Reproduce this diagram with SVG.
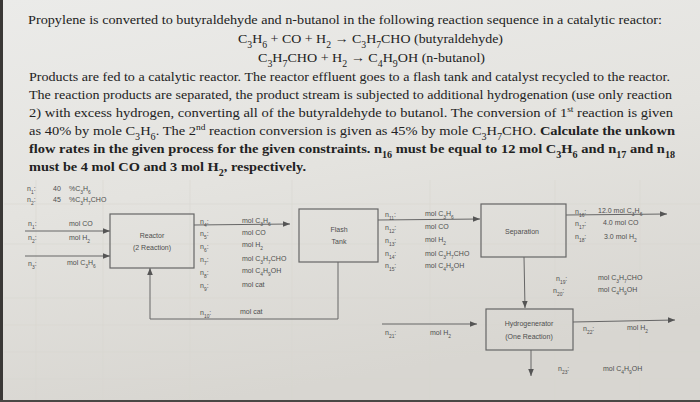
<svg xmlns="http://www.w3.org/2000/svg" width="700" height="402" viewBox="0 0 700 402">
<defs>
<linearGradient id="paper" x1="0" y1="0" x2="0.3" y2="1">
<stop offset="0" stop-color="#ebebe9"/>
<stop offset="0.5" stop-color="#e4e3df"/>
<stop offset="1" stop-color="#d8d6d1"/>
</linearGradient>
<marker id="ah" viewBox="0 0 10 10" refX="10" refY="5" markerWidth="7" markerHeight="7" markerUnits="userSpaceOnUse" orient="auto">
<path d="M0,1 L10,5 L0,9 Z" fill="#555"/>
</marker>
<style>
.t{font-family:"Liberation Serif","Times New Roman",serif;font-size:13.5px;fill:#222}
.b{font-weight:bold}
.d{font-family:"Liberation Sans",Arial,sans-serif;font-size:7px;fill:#4e4e4e}
.dc{text-anchor:middle}
.s{font-size:70%;baseline-shift:sub}
.p{font-size:65%;baseline-shift:super}
.box{fill:none;stroke:#666;stroke-width:1.2}
.ln{fill:none;stroke:#666;stroke-width:1}
.g{stroke:#d9d7d2;stroke-width:0.6}
</style>
</defs>
<rect width="700" height="402" fill="url(#paper)"/>
<g id="grid">
<line class="g" x1="4" y1="204" x2="700" y2="204"/>
<line class="g" x1="4" y1="244" x2="700" y2="244"/>
<line class="g" x1="4" y1="298" x2="700" y2="298"/>
<line class="g" x1="4" y1="325" x2="700" y2="325"/>
<line class="g" x1="4" y1="352" x2="700" y2="352"/>
<line class="g" x1="4" y1="379" x2="700" y2="379"/>
<line class="g" x1="36" y1="180" x2="36" y2="400"/>
<line class="g" x1="103" y1="180" x2="103" y2="400"/>
<line class="g" x1="190" y1="180" x2="190" y2="400"/>
<line class="g" x1="292" y1="180" x2="292" y2="400"/>
<line class="g" x1="430" y1="180" x2="430" y2="400"/>
<line class="g" x1="555" y1="180" x2="555" y2="400"/>
<line class="g" x1="640" y1="180" x2="640" y2="400"/>
</g>
<rect x="0" y="0" width="3" height="402" fill="#3a3836"/>
<rect x="0" y="400" width="700" height="2" fill="#4a4845"/>

<g id="problem-text">
<text class="t" x="28" y="24" textLength="634" lengthAdjust="spacingAndGlyphs">Propylene is converted to butyraldehyde and n-butanol in the following reaction sequence in a catalytic reactor:</text>
<text class="t" x="238" y="43" textLength="265" lengthAdjust="spacingAndGlyphs">C<tspan class="s">3</tspan>H<tspan class="s">6</tspan> + CO + H<tspan class="s">2</tspan> → C<tspan class="s">3</tspan>H<tspan class="s">7</tspan>CHO (butyraldehyde)</text>
<text class="t" x="258" y="62" textLength="227" lengthAdjust="spacingAndGlyphs">C<tspan class="s">3</tspan>H<tspan class="s">7</tspan>CHO + H<tspan class="s">2</tspan> → C<tspan class="s">4</tspan>H<tspan class="s">9</tspan>OH (n-butanol)</text>
<text class="t" x="29" y="81" textLength="641" lengthAdjust="spacingAndGlyphs">Products are fed to a catalytic reactor. The reactor effluent goes to a flash tank and catalyst recycled to the reactor.</text>
<text class="t" x="29" y="99" textLength="643" lengthAdjust="spacingAndGlyphs">The reaction products are separated, the product stream is subjected to additional hydrogenation (use only reaction</text>
<text class="t" x="29" y="117" textLength="644" lengthAdjust="spacingAndGlyphs">2) with excess hydrogen, converting all of the butyraldehyde to butanol. The conversion of 1<tspan class="p">st</tspan> reaction is given</text>
<text class="t" x="29" y="135" textLength="646" lengthAdjust="spacingAndGlyphs">as 40% by mole C<tspan class="s">3</tspan>H<tspan class="s">6</tspan>. The 2<tspan class="p">nd</tspan> reaction conversion is given as 45% by mole C<tspan class="s">3</tspan>H<tspan class="s">7</tspan>CHO. <tspan class="b">Calculate the unkown</tspan></text>
<text class="t b" x="29" y="153" textLength="646" lengthAdjust="spacingAndGlyphs">flow rates in the given process for the given constraints. n<tspan class="s">16</tspan> must be equal to 12 mol C<tspan class="s">3</tspan>H<tspan class="s">6</tspan> and n<tspan class="s">17</tspan> and n<tspan class="s">18</tspan></text>
<text class="t b" x="29" y="170.5" textLength="277" lengthAdjust="spacingAndGlyphs">must be 4 mol CO and 3 mol H<tspan class="s">2</tspan>, respectively.</text>
</g>

<g id="conversions">
<text class="d" x="27" y="190.5">n<tspan class="s">1</tspan>:</text>
<text class="d" x="53" y="190.5">40</text>
<text class="d" x="69" y="190.5">%C<tspan class="s">3</tspan>H<tspan class="s">6</tspan></text>
<text class="d" x="27" y="201.5">n<tspan class="s">2</tspan>:</text>
<text class="d" x="53" y="201.5">45</text>
<text class="d" x="69" y="201.5">%C<tspan class="s">3</tspan>H<tspan class="s">7</tspan>CHO</text>
</g>

<g id="connectors">
<line class="ln" x1="25" y1="231" x2="110" y2="231" marker-end="url(#ah)"/>
<line class="ln" x1="25" y1="256" x2="110" y2="256" marker-end="url(#ah)"/>
<line class="ln" x1="194" y1="225" x2="290" y2="224" marker-end="url(#ah)"/>
<polyline class="ln" points="338,262 338,319 150,319 150,268" marker-end="url(#ah)"/>
<line class="ln" x1="378" y1="220" x2="480" y2="219" marker-end="url(#ah)"/>
<line class="ln" x1="566" y1="215" x2="667" y2="214" marker-end="url(#ah)"/>
<line class="ln" x1="524" y1="257" x2="525" y2="308" marker-end="url(#ah)"/>
<line class="ln" x1="382" y1="324" x2="477" y2="324" marker-end="url(#ah)"/>
<line class="ln" x1="573" y1="322" x2="675" y2="320" marker-end="url(#ah)"/>
<line class="ln" x1="531" y1="350" x2="531" y2="376" marker-end="url(#ah)"/>
</g>

<g id="reactor">
<rect class="box" x="110" y="214" width="84" height="54"/>
<text class="d dc" x="152" y="237.5">Reactor</text>
<text class="d dc" x="152" y="249.5">(2 Reaction)</text>
</g>
<g id="flash-tank">
<rect class="box" x="299" y="209" width="79" height="53"/>
<text class="d dc" x="339" y="231.5">Flash</text>
<text class="d dc" x="339" y="243.5">Tank</text>
</g>
<g id="separation">
<rect class="box" x="481" y="204" width="85" height="53"/>
<text class="d dc" x="522" y="233.5">Separation</text>
</g>
<g id="hydrogenerator">
<rect class="box" x="486" y="309" width="87" height="41"/>
<text class="d dc" x="529" y="325.5">Hydrogenerator</text>
<text class="d dc" x="529" y="338.5">(One Reaction)</text>
</g>

<g id="stream-labels">
<text class="d" x="28" y="225.5">n<tspan class="s">1</tspan>:</text>
<text class="d" x="69" y="225.5">mol CO</text>
<text class="d" x="28" y="239.5">n<tspan class="s">2</tspan>:</text>
<text class="d" x="69" y="239.5">mol H<tspan class="s">2</tspan></text>
<text class="d" x="28" y="266">n<tspan class="s">3</tspan>:</text>
<text class="d" x="67" y="265">mol C<tspan class="s">3</tspan>H<tspan class="s">6</tspan></text>

<text class="d" x="200" y="223.5">n<tspan class="s">4</tspan>:</text>
<text class="d" x="200" y="235.5">n<tspan class="s">5</tspan>:</text>
<text class="d" x="200" y="248.5">n<tspan class="s">6</tspan>:</text>
<text class="d" x="200" y="261.5">n<tspan class="s">7</tspan>:</text>
<text class="d" x="200" y="274.5">n<tspan class="s">8</tspan>:</text>
<text class="d" x="200" y="287.5">n<tspan class="s">9</tspan>:</text>
<text class="d" x="242" y="222.5">mol C<tspan class="s">3</tspan>H<tspan class="s">6</tspan></text>
<text class="d" x="242" y="234.5">mol CO</text>
<text class="d" x="242" y="246.5">mol H<tspan class="s">2</tspan></text>
<text class="d" x="242" y="260.5">mol C<tspan class="s">3</tspan>H<tspan class="s">7</tspan>CHO</text>
<text class="d" x="242" y="272.5">mol C<tspan class="s">4</tspan>H<tspan class="s">9</tspan>OH</text>
<text class="d" x="242" y="286.5">mol cat</text>
<text class="d" x="200" y="314.5">n<tspan class="s">10</tspan>:</text>
<text class="d" x="240" y="314">mol cat</text>

<text class="d" x="385" y="216.5">n<tspan class="s">11</tspan>:</text>
<text class="d" x="385" y="229.5">n<tspan class="s">12</tspan>:</text>
<text class="d" x="385" y="242.5">n<tspan class="s">13</tspan>:</text>
<text class="d" x="385" y="255.5">n<tspan class="s">14</tspan>:</text>
<text class="d" x="385" y="267.5">n<tspan class="s">15</tspan>:</text>
<text class="d" x="425" y="215.5">mol C<tspan class="s">3</tspan>H<tspan class="s">6</tspan></text>
<text class="d" x="425" y="229">mol CO</text>
<text class="d" x="425" y="242">mol H<tspan class="s">2</tspan></text>
<text class="d" x="425" y="256">mol C<tspan class="s">3</tspan>H<tspan class="s">7</tspan>CHO</text>
<text class="d" x="425" y="268">mol C<tspan class="s">4</tspan>H<tspan class="s">9</tspan>OH</text>

<text class="d" x="575" y="213.5">n<tspan class="s">16</tspan>:</text>
<text class="d" x="598" y="213">12.0 mol C<tspan class="s">3</tspan>H<tspan class="s">6</tspan></text>
<text class="d" x="575" y="225.5">n<tspan class="s">17</tspan>:</text>
<text class="d" x="603" y="225">4.0 mol CO</text>
<text class="d" x="575" y="239">n<tspan class="s">18</tspan>:</text>
<text class="d" x="604" y="238.5">3.0 mol H<tspan class="s">2</tspan></text>

<text class="d" x="556" y="280.5">n<tspan class="s">19</tspan>:</text>
<text class="d" x="598" y="280">mol C<tspan class="s">3</tspan>H<tspan class="s">7</tspan>CHO</text>
<text class="d" x="553" y="292.5">n<tspan class="s">20</tspan>:</text>
<text class="d" x="598" y="292">mol C<tspan class="s">4</tspan>H<tspan class="s">9</tspan>OH</text>

<text class="d" x="385" y="335">n<tspan class="s">21</tspan>:</text>
<text class="d" x="430" y="334.5">mol H<tspan class="s">2</tspan></text>
<text class="d" x="583" y="331">n<tspan class="s">22</tspan>:</text>
<text class="d" x="627" y="330">mol H<tspan class="s">2</tspan></text>
<text class="d" x="558" y="371">n<tspan class="s">23</tspan>:</text>
<text class="d" x="603" y="371">mol C<tspan class="s">4</tspan>H<tspan class="s">9</tspan>OH</text>
</g>
</svg>
